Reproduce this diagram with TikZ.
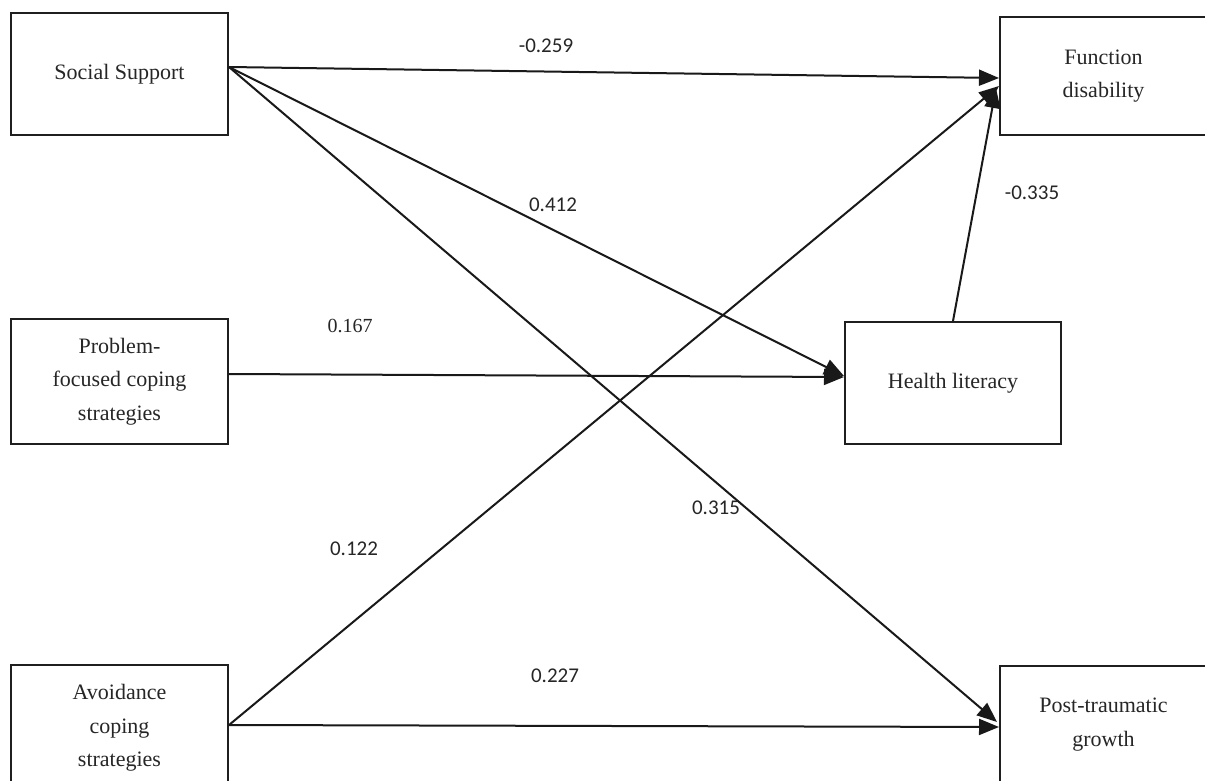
\documentclass[tikz,border=0pt]{standalone}
\usepackage{fontspec}
\setmainfont{Liberation Serif}
\newfontfamily\lblfont{Carlito}
\usetikzlibrary{arrows.meta,calc}
\tikzset{
  box/.style={draw=black!88, line width=2pt, rectangle, align=center, inner sep=0pt,
    font=\fontsize{22}{33.5}\selectfont, text=black!85},
  path/.style={draw=black!90, line width=2pt, -{Triangle[length=20pt,width=16pt]}},
  coef/.style={font=\lblfont\fontsize{21}{24}\selectfont, text=black!85},
  coefserif/.style={font=\fontsize{20}{24}\selectfont, text=black!85}
}
\begin{document}
\begin{tikzpicture}[x=1pt,y=-1pt]
\useasboundingbox (0,0) rectangle (1205,781);
\clip (0,0) rectangle (1205,781);
\fill[white] (0,0) rectangle (1205,781);
% nodes
\node[box, minimum width=217pt, minimum height=122pt] (ss) at (119.5,74) {Social Support};
\node[box, minimum width=217pt, minimum height=125pt] (pf) at (119.5,381.5) {Problem-\\focused coping\\strategies};
\node[box, minimum width=217pt, minimum height=126pt] (av) at (119.5,728) {Avoidance\\coping\\strategies};
\node[box, minimum width=207pt, minimum height=118pt] (fd) at (1103.5,76) {Function\\disability};
\node[box, minimum width=216pt, minimum height=122pt] (hl) at (953,383) {Health literacy};
\node[box, minimum width=207pt, minimum height=117pt] (pt) at (1103.5,724.5) {Post-traumatic\\growth};
% connectors
\draw[path] ($(ss.east)+(0,-7)$) -- ($(fd.west)+(0,2)$);
\draw[path] ($(ss.east)+(0,-7)$) -- ($(hl.west)+(0,-7)$);
\draw[path] ($(ss.east)+(0,-7)$) -- ($(pt.west)+(-2,-2.5)$);
\draw[path] ($(pf.east)+(0,-7.5)$) -- ($(hl.west)+(0,-6)$);
\draw[path] ($(av.east)+(0,-3)$) -- ($(fd.west)+(0,10)$);
\draw[path] ($(av.east)+(0,-3)$) -- ($(pt.west)+(0,2.5)$);
\draw[path] (hl.north) -- ($(fd.west)+(-3,12)$);
% coefficients
\node[coef] (c1) at (546,46) {-0.259};
\node[coef] (c2) at (553,205) {0.412};
\node[coef] (c3) at (1032,193) {-0.335};
\node[coefserif] (c4) at (350,326) {0.167};
\node[coef] (c5) at (354,549) {0.122};
\node[coef] (c6) at (716,508) {0.315};
\node[coef] (c7) at (555,676) {0.227};
\end{tikzpicture}
\end{document}
